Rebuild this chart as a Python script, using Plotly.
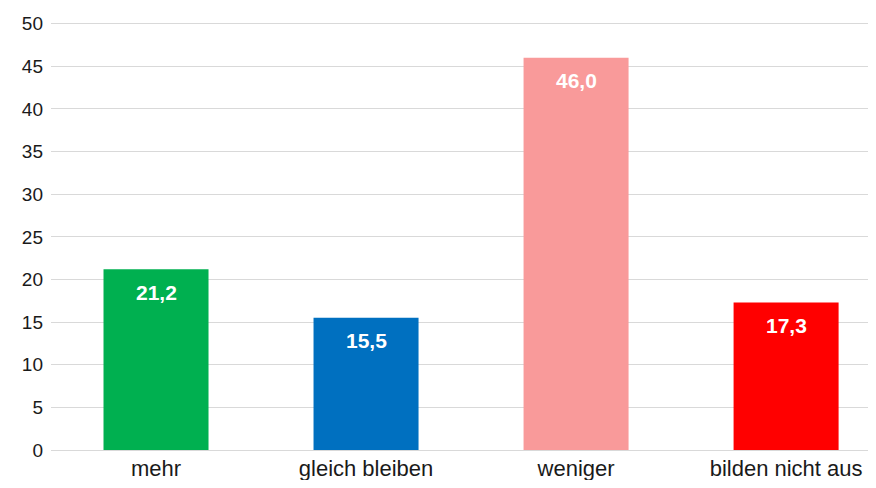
import plotly.graph_objects as go

categories = ["mehr", "gleich bleiben", "weniger", "bilden nicht aus"]
values = [21.2, 15.5, 46.0, 17.3]
colors = ["#00B050", "#0070C0", "#F99A9A", "#FF0000"]
y_ticks = [0, 5, 10, 15, 20, 25, 30, 35, 40, 45, 50]

fig = go.Figure()
fig.add_trace(go.Bar(
    x=categories,
    y=values,
    marker=dict(color=colors, line=dict(width=0)),
    width=0.5,
    hoverinfo="skip",
))

# value labels inside the top of each bar
for cat, val in zip(categories, values):
    fig.add_annotation(
        x=cat, y=val, yshift=-23, showarrow=False,
        text=f"{val:.1f}".replace(".", ","),
        font=dict(family="Liberation Sans, Arial", size=21, color="white", weight="bold"),
    )

# page body has an 8px margin, so the figure is kept 16px smaller
fig.update_layout(
    width=860, height=472,
    margin=dict(l=43, r=0, t=14, b=30),
    paper_bgcolor="white", plot_bgcolor="white",
    showlegend=False,
    font=dict(family="Liberation Sans, Arial", size=19, color="#1a1a1a"),
    xaxis=dict(range=[-0.5, 3.39], showgrid=False, showline=False, ticks="",
               tickfont=dict(size=22), ticklabelstandoff=3),
    yaxis=dict(range=[0, 50.2], tickvals=y_ticks, showgrid=True, gridcolor="#D9D9D9",
               gridwidth=1, zeroline=True, zerolinecolor="#D9D9D9", zerolinewidth=1,
               ticks="", ticklabelstandoff=7, tickfont=dict(size=19)),
)

fig.write_html("out.html")
